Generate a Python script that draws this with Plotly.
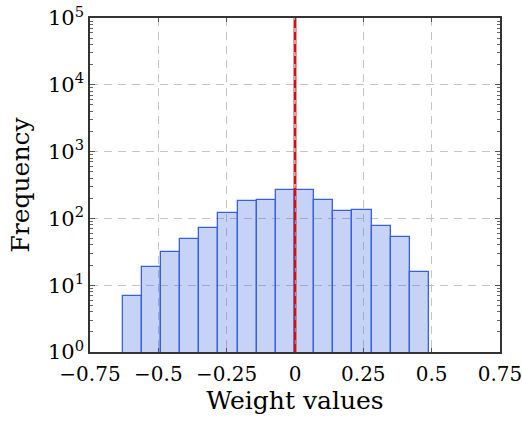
import plotly.graph_objects as go

# Histogram data (bin edges and counts)
bin_edges = [-0.63, -0.56, -0.49, -0.42, -0.35, -0.28, -0.21, -0.14, -0.07,
             0.0, 0.07, 0.14, 0.21, 0.28, 0.35, 0.42, 0.49]
counts = [7, 19, 31, 49, 73, 120, 184, 190, 262, 265, 186, 127, 132, 77, 52, 16]
reference_x = 0.0

x_tick_vals = [-0.75, -0.5, -0.25, 0, 0.25, 0.5, 0.75]
x_tick_text = ["\u22120.75", "\u22120.5", "\u22120.25", "0", "0.25", "0.5", "0.75"]
y_tick_vals = [1, 10, 100, 1000, 10000, 100000]
y_tick_text = ["10<sup>0</sup>", "10<sup>1</sup>", "10<sup>2</sup>",
               "10<sup>3</sup>", "10<sup>4</sup>", "10<sup>5</sup>"]

centers = [(a + b) / 2 for a, b in zip(bin_edges[:-1], bin_edges[1:])]
widths = [b - a for a, b in zip(bin_edges[:-1], bin_edges[1:])]
minor_vals = [k * 10 ** d for d in range(0, 5) for k in range(2, 10)]

font_family = "DejaVu Serif"

fig = go.Figure()
fig.add_trace(go.Bar(
    x=centers, y=counts, width=widths,
    marker=dict(color="rgba(65,105,225,0.3)",
                line=dict(color="rgb(55,95,225)", width=1.3)),
    showlegend=False,
))

fig.add_shape(type="line", x0=reference_x, x1=reference_x, y0=0, y1=1,
              xref="x", yref="paper",
              line=dict(color="rgba(200,30,30,0.45)", width=4))
fig.add_shape(type="line", x0=reference_x, x1=reference_x, y0=0, y1=1,
              xref="x", yref="paper",
              line=dict(color="rgb(200,20,20)", width=2, dash="8px,4px"))

fig.update_layout(
    width=523, height=428,
    margin=dict(l=90, r=23, t=18, b=76),
    paper_bgcolor="white", plot_bgcolor="white",
    font=dict(family=font_family, size=22, color="black"),
    bargap=0,
)
fig.update_xaxes(
    range=[-0.75, 0.75], automargin=False, ticklabeloverflow="allow",
    tickmode="array", tickvals=x_tick_vals, ticktext=x_tick_text,
    ticks="inside", ticklen=4, tickcolor="#555", tickwidth=1,
    ticklabelstandoff=3,
    showline=True, linecolor="#333", linewidth=1.5, mirror="ticks",
    showgrid=True, gridcolor="#c4c4c4", griddash="8px,6px", gridwidth=1,
    zeroline=False,
    tickfont=dict(family=font_family, size=20),
    title=dict(text="Weight values", font=dict(family=font_family, size=25), standoff=3),
)
fig.update_yaxes(
    type="log", range=[0, 5], automargin=False, ticklabeloverflow="allow",
    tickmode="array", tickvals=y_tick_vals, ticktext=y_tick_text,
    ticks="inside", ticklen=5, tickcolor="#555", tickwidth=1,
    minor=dict(tickmode="array", tickvals=minor_vals, ticks="inside",
               ticklen=3, tickcolor="#666", showgrid=False),
    showline=True, linecolor="#333", linewidth=1.5, mirror="ticks",
    showgrid=True, gridcolor="#c4c4c4", griddash="8px,6px", gridwidth=1,
    zeroline=False,
    tickfont=dict(family=font_family, size=21),
    title=dict(text="Frequency", font=dict(family=font_family, size=25), standoff=11),
)

fig.write_html("out.html")
